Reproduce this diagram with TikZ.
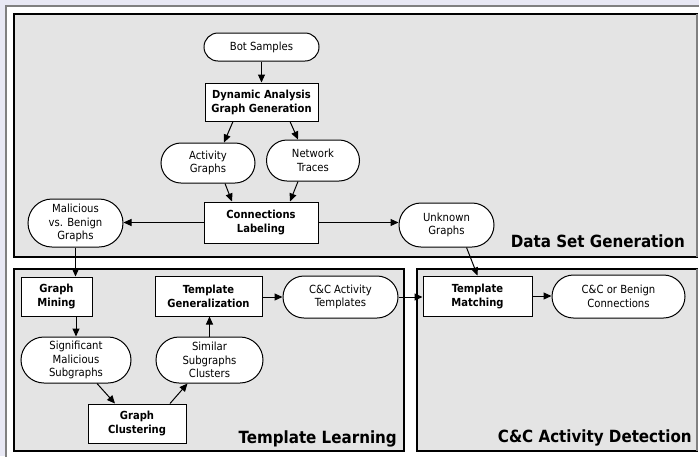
\documentclass[tikz,border=0pt]{standalone}
\usepackage{fontspec}
\setmainfont{DejaVu Sans Condensed}
\usetikzlibrary{arrows.meta,shapes.misc}
\definecolor{bglav}{RGB}{232,232,244}
\definecolor{boxgray}{RGB}{228,228,228}
\definecolor{framegray}{RGB}{128,128,128}
\begin{document}
\begin{tikzpicture}[x=1pt,y=-1pt,
  proc/.style={draw=black, fill=white, line width=1pt, rectangle, inner sep=0pt, align=center, font=\fontsize{11.1}{14}\selectfont\bfseries},
  data/.style={draw=black, fill=white, line width=1pt, rounded rectangle, inner sep=0pt, align=center, font=\fontsize{11.2}{13.8}\selectfont},
  arr/.style={line width=1pt, -{Triangle[length=8pt,width=7pt]}},
  region/.style={draw=black, fill=boxgray, line width=1.2pt},
  regionlabel/.style={font=\fontsize{16.8}{19}\selectfont\bfseries, anchor=base east, inner sep=0pt}
]
\path[use as bounding box] (0,0) rectangle (699,456);
\clip (0,0) rectangle (699,456);
\fill[bglav] (0,0) rectangle (699,456);
\draw[framegray, line width=2pt, fill=white] (5.5,5.5) rectangle (720,480);
% regions
\draw[region] (14,14) rectangle (697,257);
\draw[framegray, line width=1.2pt] (697,14) -- (697,257);
\draw[region] (14,269) rectangle (404,451);
\draw[region] (417,269) rectangle (697,451);
\draw[framegray, line width=1.2pt] (697,269) -- (697,451);
\node[regionlabel] (lDSG) at (685,247) {Data Set Generation};
\node[regionlabel] (lTL) at (397,443) {Template Learning};
\node[regionlabel] (lCC) at (692,442) {C\&C Activity Detection};
% Data Set Generation
\node[data, minimum width=115pt, minimum height=28pt] (BS) at (261.5,47) {Bot Samples};
\node[proc, minimum width=113pt, minimum height=38pt] (DA) at (261.5,102) {Dynamic Analysis\\Graph Generation};
\node[data, minimum width=94pt, minimum height=40pt] (AG) at (208,163) {Activity\\Graphs};
\node[data, minimum width=93pt, minimum height=41pt] (NT) at (313,160.5) {Network\\Traces};
\node[proc, minimum width=114pt, minimum height=41pt] (CL) at (261,222.5) {Connections\\Labeling};
\node[data, minimum width=95pt, minimum height=48pt] (MB) at (75.5,223) {Malicious\\vs. Benign\\Graphs};
\node[data, minimum width=95pt, minimum height=44pt] (UG) at (446.5,225) {Unknown\\Graphs};
% Template Learning
\node[proc, minimum width=71pt, minimum height=39pt] (GM) at (56.5,296.5) {Graph\\Mining};
\node[data, minimum width=110pt, minimum height=46pt] (SM) at (76,360) {Significant\\Malicious\\Subgraphs};
\node[proc, minimum width=98pt, minimum height=39pt] (GC) at (137,423.5) {Graph\\Clustering};
\node[data, minimum width=107pt, minimum height=46pt] (SS) at (209.5,360) {Similar\\Subgraphs\\Clusters};
\node[proc, minimum width=107pt, minimum height=40pt] (TG) at (208.5,296) {Template\\Generalization};
\node[data, minimum width=115pt, minimum height=42pt] (CT) at (340.5,297) {C\&C Activity\\Templates};
% C&C Activity Detection
\node[proc, minimum width=109pt, minimum height=40pt] (TM) at (477.5,296) {Template\\Matching};
\node[data, minimum width=133pt, minimum height=43pt] (CB) at (618.5,296.5) {C\&C or Benign\\Connections};
% connectors
\draw[arr] (BS.south) -- (DA.north);
\draw[arr] ([xshift=-28.5pt]DA.south) -- ([xshift=16pt]AG.north);
\draw[arr] ([xshift=28.5pt]DA.south) -- ([xshift=-15pt]NT.north);
\draw[arr] ([xshift=17pt]AG.south) -- ([xshift=-29pt]CL.north);
\draw[arr] ([xshift=-15pt]NT.south) -- ([xshift=29pt]CL.north);
\draw[arr] (CL.west) -- (CL.west -| MB.east);
\draw[arr] (CL.east) -- (CL.east -| UG.west);
\draw[arr] (MB.south) -- (MB.south |- GM.north);
\draw[arr] (SM.north |- GM.south) -- (SM.north);
\draw[arr] ([xshift=21pt]SM.south) -- ([xshift=-22pt]GC.north);
\draw[arr] ([xshift=33pt]GC.north) -- ([xshift=-22pt]SS.south);
\draw[arr] (SS.north) -- (SS.north |- TG.south);
\draw[arr] (TG.east) -- (TG.east |- CT.west) -- (CT.west);
\draw[arr] (CT.east) -- (CT.east -| TM.west);
\draw[arr] ([xshift=20pt]UG.south) -- (TM.north);
\draw[arr] (TM.east) -- (TM.east -| CB.west);
\end{tikzpicture}
\end{document}
